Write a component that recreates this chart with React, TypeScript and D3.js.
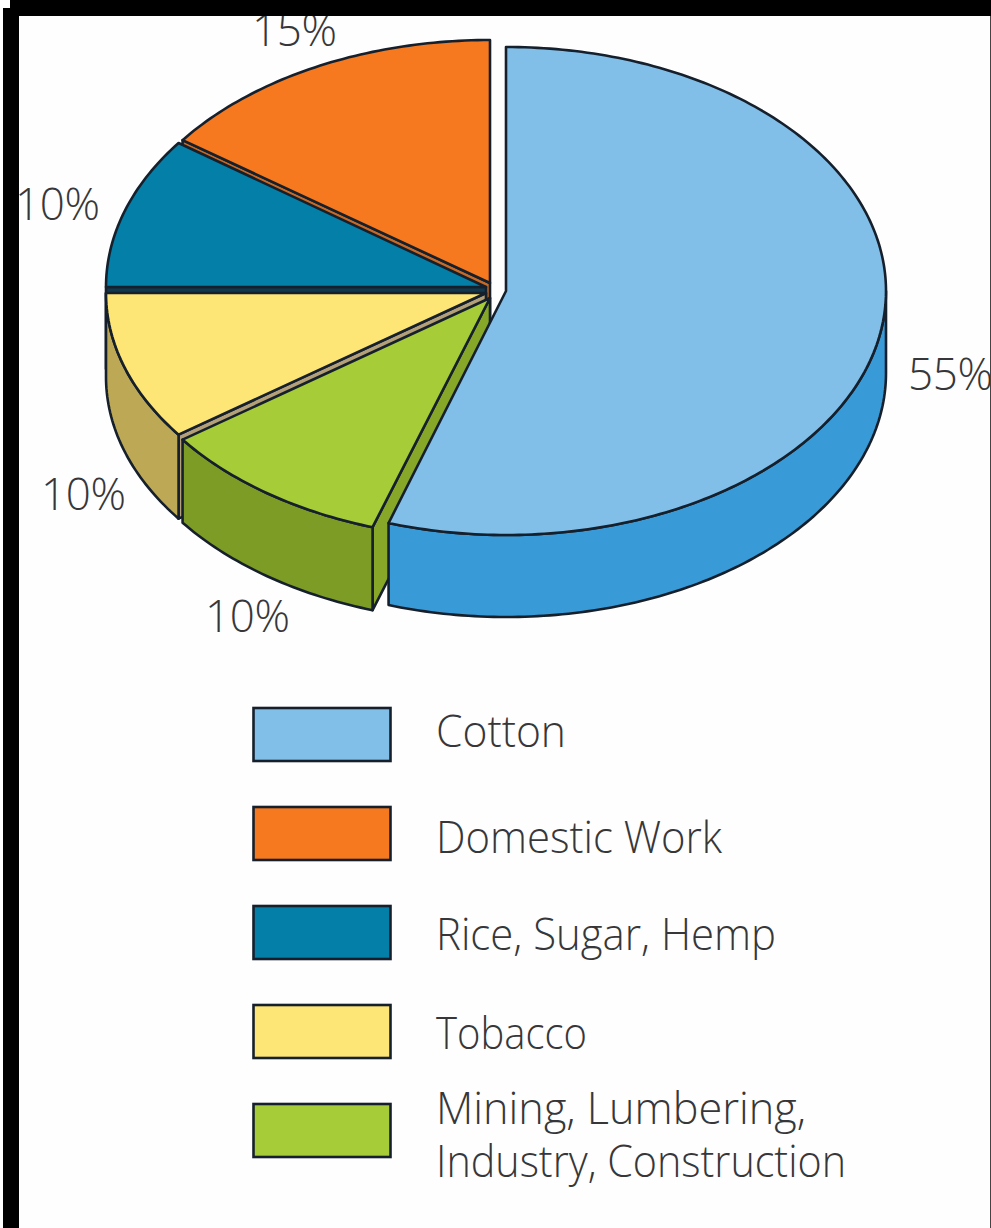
import React from "react";
import * as d3 from "d3";

// Share of enslaved labour by occupation, legend order.
const categories = ["Cotton", "Domestic Work", "Rice, Sugar, Hemp", "Tobacco", "Mining, Lumbering, Industry, Construction"];
const shares = [55, 15, 10, 10, 10];
const topColors = ["#82bfe8", "#f6781f", "#047fa8", "#fde675", "#a6cc38"];
const wallColors = ["#399ad8", "#c9641c", "#12384d", "#bda955", "#7c9c26"];
const cutColors = ["#399ad8", "#c56a28", "#12384d", "#b3a078", "#86a728"];
const legendLines = [["Cotton"], ["Domestic Work"], ["Rice, Sugar, Hemp"], ["Tobacco"], ["Mining, Lumbering,", "Industry, Construction"]];
// Clockwise drawing order from twelve o'clock.
const sliceOrder = [0, 4, 3, 2, 1];
// Painted back to front so that each slice covers the cut face of its neighbour.
const paintOrder = [1, 2, 3, 4, 0];

const INK = "#16202c";
const TEXT = "#37373a";
const FONT = "'Open Sans', 'Noto Sans', sans-serif";

// Exploded-slice geometry per category: ellipse centre, radii and extrusion depth.
const sliceCx = [506, 490, 486, 486, 490];
const sliceCy = [291, 283, 287, 293, 298];
const sliceRx = [380, 380, 380, 380, 380];
const sliceRy = [244, 243, 245, 241, 241];
const sliceDepth = [82, 82, 82, 84, 83];

const pctLabels = [
  { text: "55%", x: 908, y: 390 },
  { text: "15%", x: 252, y: 46 },
  { text: "10%", x: 15, y: 220 },
  { text: "10%", x: 41, y: 510 },
  { text: "10%", x: 205, y: 632 },
];
const PCT_WIDTH = 85;

// Legend text: baseline and set width of each line.
const legendBaselines = [[747], [853], [950], [1049], [1124, 1177]];
const legendWidths = [[130], [286], [340], [151], [370, 410]];

const arcs = d3.pie<number>().sort(null).value((i) => shares[i]).startAngle(0).endAngle(2 * Math.PI)(sliceOrder);
const arcOf = (i: number) => arcs.find((a) => a.data === i)!;

const pathLine = d3.line<[number, number]>();
const legendY = d3.scalePoint<number>().domain(d3.range(categories.length)).range([708, 1104]);

function ellipsePoint(i: number, angle: number, drop = 0): [number, number] {
  return [sliceCx[i] + sliceRx[i] * Math.sin(angle), sliceCy[i] - sliceRy[i] * Math.cos(angle) + drop];
}

function arcPoints(i: number, a0: number, a1: number, drop = 0): [number, number][] {
  const n = Math.max(2, Math.ceil(Math.abs(a1 - a0) * 60));
  return d3.range(n + 1).map((k) => ellipsePoint(i, a0 + ((a1 - a0) * k) / n, drop));
}

function Slice({ i }: { i: number }) {
  const { startAngle: a0, endAngle: a1 } = arcOf(i);
  const depth = sliceDepth[i];
  const apex: [number, number] = [sliceCx[i], sliceCy[i]];
  const apexLow: [number, number] = [apex[0], apex[1] + depth];
  // Outer wall only exists on the part of the rim that faces the viewer.
  const wa0 = Math.max(a0, Math.PI / 2);
  const wa1 = Math.min(a1, (3 * Math.PI) / 2);
  const hasWall = wa1 > wa0;
  const wall = hasWall
    ? pathLine([...arcPoints(i, wa0, wa1), ...arcPoints(i, wa1, wa0, depth)]) + "Z"
    : null;
  const cut = i === 0 ? null : pathLine([apex, ellipsePoint(i, a0), ellipsePoint(i, a0, depth), apexLow]) + "Z";
  const top = pathLine([apex, ...arcPoints(i, a0, a1)]) + "Z";
  const stroke = { stroke: INK, strokeWidth: 2.6, strokeLinejoin: "round" as const };
  return (
    <g>
      {cut && <path d={cut} fill={cutColors[i]} {...stroke} />}
      {wall && <path d={wall} fill={wallColors[i]} {...stroke} />}
      <path d={top} fill={topColors[i]} {...stroke} />
    </g>
  );
}

export default function App() {
  return (
    <svg width={991} height={1228} viewBox="0 0 991 1228" style={{ position: "fixed", left: 0, top: 0, background: "#fefefe" }}>
      {paintOrder.map((i) => (
        <Slice key={i} i={i} />
      ))}

      <g fontFamily={FONT} fontWeight={300} fill={TEXT} fontSize={44}>
        {pctLabels.map((d, i) => (
          <text key={i} x={d.x} y={d.y} textLength={PCT_WIDTH} lengthAdjust="spacing">
            {d.text}
          </text>
        ))}
      </g>

      {categories.map((name, i) => {
        const y = legendY(i)!;
        return (
          <g key={name}>
            <rect x={253.5} y={y} width={137} height={53} fill={topColors[i]} stroke={INK} strokeWidth={2.6} />
            <g fontFamily={FONT} fontWeight={300} fill={TEXT} fontSize={44}>
              {legendLines[i].map((line, k) => (
                <text key={line} x={436} y={legendBaselines[i][k]} textLength={legendWidths[i][k]} lengthAdjust="spacingAndGlyphs">
                  {line}
                </text>
              ))}
            </g>
          </g>
        );
      })}

      {/* Scanned page edge */}
      <rect x={10} y={0} width={981} height={16} fill="#000" />
      <rect x={3} y={8} width={16} height={1220} fill="#000" />
      <rect x={990} y={16} width={1} height={1212} fill="#444" />
      <rect x={0} y={0} width={10} height={8} fill="#fff" />
    </svg>
  );
}
